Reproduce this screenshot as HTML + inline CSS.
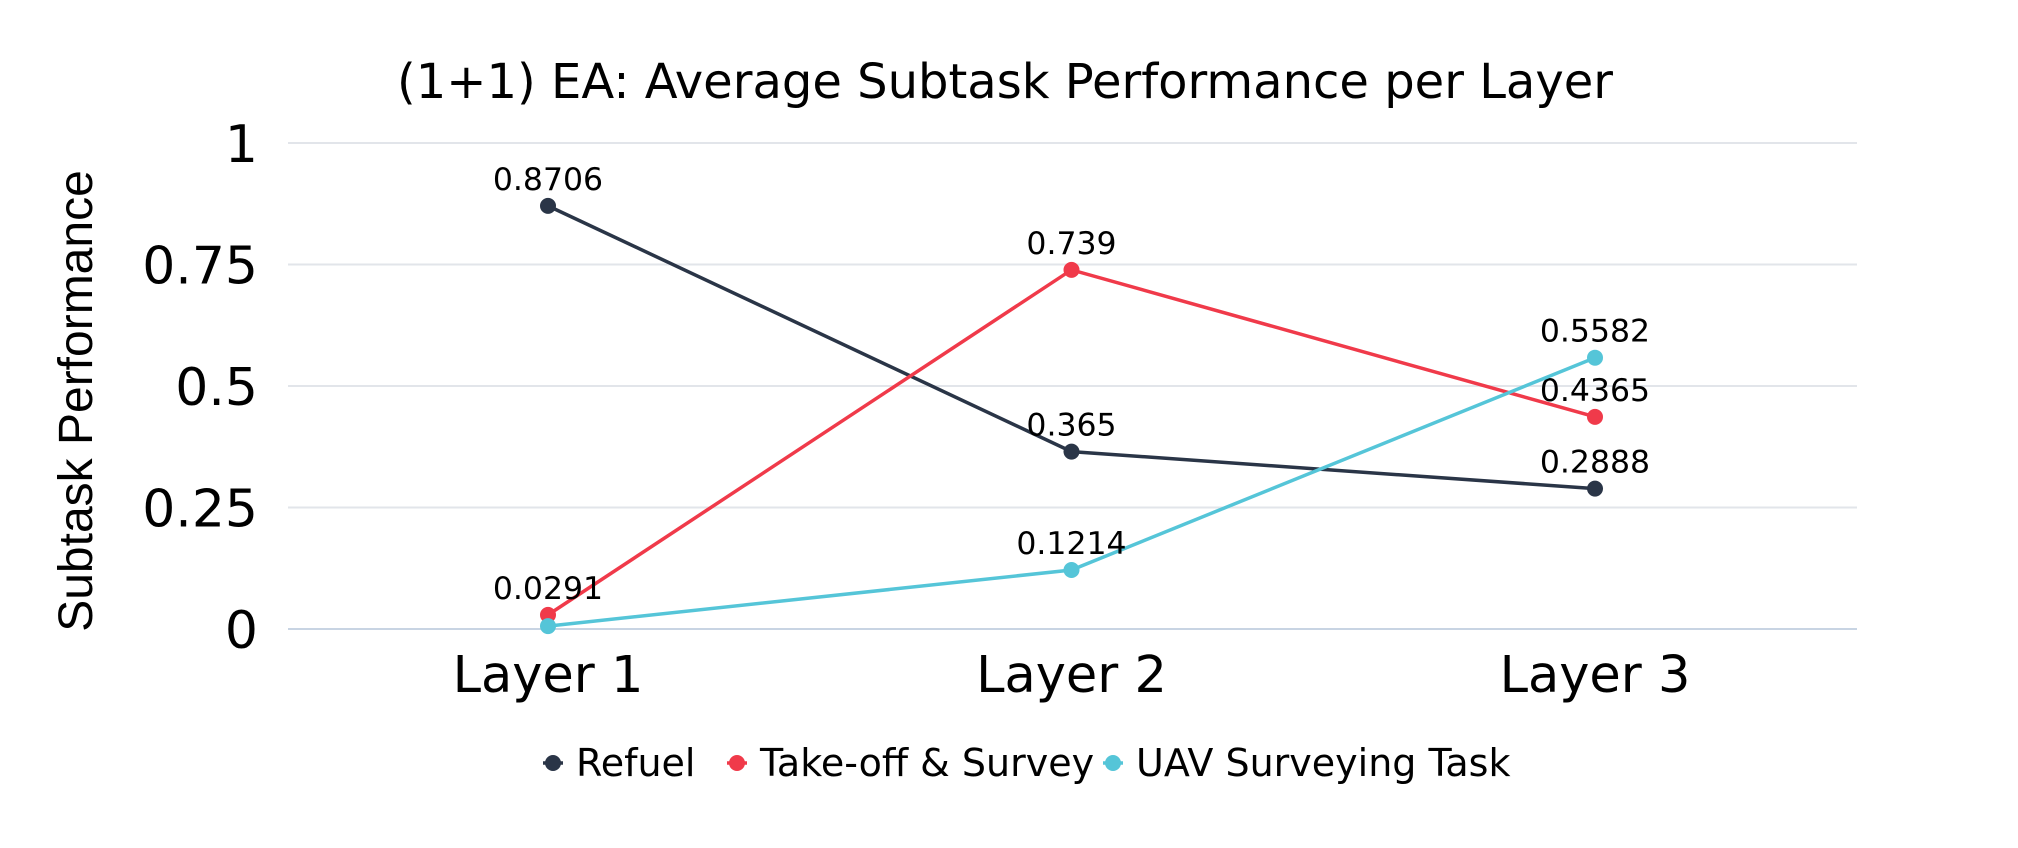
<!DOCTYPE html>
<html><head><meta charset="utf-8"><style>
html,body{margin:0;padding:0;background:#fff;}
svg{display:block;font-family:"DejaVu Sans","Liberation Sans",sans-serif;}
</style></head><body>
<svg id="chart" width="2018" height="848" viewBox="0 0 2018 848">
<text x="1005" y="98" font-size="48" text-anchor="middle" fill="#000">(1+1) EA: Average Subtask Performance per Layer</text>
<text transform="translate(92,401) rotate(-90)" font-size="48" text-anchor="middle" fill="#000" font-family="Liberation Sans, sans-serif">Subtask Performance</text>
<g id="grid"></g><g id="yticks"></g><g id="xticks"></g><g id="series"></g><g id="legend"></g>
</svg>
<script>
const categories=["Layer 1","Layer 2","Layer 3"];
const seriesNames=["Refuel","Take-off & Survey","UAV Surveying Task"];
const refuel=[0.8706,0.365,0.2888];
const takeoff=[0.0291,0.739,0.4365];
const uav=[0.006,0.1214,0.5582];
const uavLabels=["",  "0.1214","0.5582"];
const yTicks=[0,0.25,0.5,0.75,1];
const yTickLabels=["0","0.25","0.5","0.75","1"];
const colors=["#2a3547","#f03a4a","#55c5d8"];
const NS="http://www.w3.org/2000/svg";
const X0=288,X1=1857,Y0=629,Y1=143;
function xs(i){return 548+i*523.5;}
function ys(v){return Y0-(v)*(Y0-Y1);}
function mk(t,a,p){const e=document.createElementNS(NS,t);for(const k in a)e.setAttribute(k,a[k]);p.appendChild(e);return e;}
const grid=document.getElementById('grid'),yt=document.getElementById('yticks'),xt=document.getElementById('xticks'),sg=document.getElementById('series'),lg=document.getElementById('legend');
yTicks.forEach((v,i)=>{
 const l=mk('line',{x1:X0,x2:X1,y1:ys(v),y2:ys(v),stroke:v===0?'#c8d4e3':'#e2e5ea','stroke-width':2},grid);
 
 
 const t=mk('text',{x:258,y:ys(v)+19,'font-size':52,'text-anchor':'end',fill:'#000'},yt);
 t.textContent=yTickLabels[i];
 
 
});
categories.forEach((c,i)=>{
 const t=mk('text',{x:xs(i),y:692,'font-size':51,'text-anchor':'middle',fill:'#000'},xt);
 t.textContent=c;
 
 
});
const all=[refuel,takeoff,uav];
all.forEach((vals,s)=>{
 const g=mk('g',{},sg);
 
 
 const pts=vals.map((v,i)=>xs(i)+','+ys(v)).join(' ');
 const pl=mk('polyline',{points:pts,fill:'none',stroke:colors[s],'stroke-width':3.5},g);
 
 
 vals.forEach((v,i)=>{
  const c=mk('circle',{cx:xs(i),cy:ys(v),r:8,fill:colors[s]},g);
  
  
  const lab=s===2?uavLabels[i]:String(v);
  if(lab){
   const t=mk('text',{x:xs(i),y:ys(v)-16,'font-size':31.5,'text-anchor':'middle',fill:'#000'},g);
   t.textContent=lab;
   
   
  }
 });
});
const lx=[553,737,1113];
seriesNames.forEach((n,s)=>{
 const g=mk('g',{},lg);
 
 
 mk('line',{x1:lx[s]-10,x2:lx[s]+10,y1:763,y2:763,stroke:colors[s],'stroke-width':3.5},g);
 mk('circle',{cx:lx[s],cy:763,r:8,fill:colors[s]},g);
 const t=mk('text',{x:lx[s]+23,y:776,'font-size':38,fill:'#000'},g);
 t.textContent=n;
});
</script>
</body></html>
